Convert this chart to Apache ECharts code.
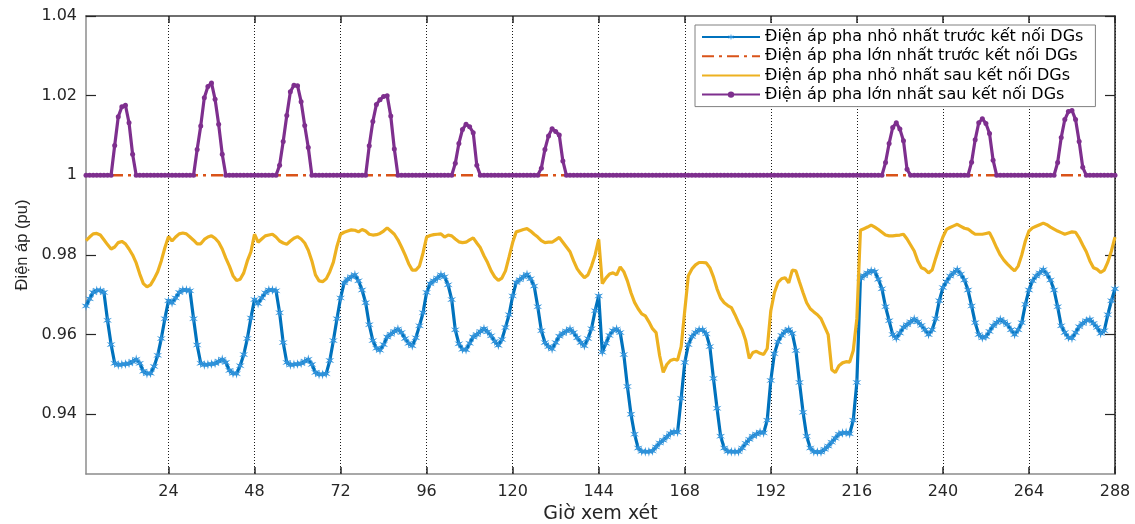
<!DOCTYPE html>
<html><head><meta charset="utf-8">
<script src="https://cdn.jsdelivr.net/npm/echarts@6/dist/echarts.min.js"></script>
<style>html,body{margin:0;padding:0;background:#fff}#c{width:1135px;height:524px}</style>
</head><body><div id="c"></div>
<script>
// x positions (hours 1..288)
const hours = Array.from({length: 288}, (_, i) => String(i + 1));
const xTickHours = [24, 48, 72, 96, 120, 144, 168, 192, 216, 240, 264, 288];
const yTickValues = [0.94, 0.96, 0.98, 1, 1.02, 1.04];

const seriesNames = [
  'Điện áp pha nhỏ nhất trước kết nối DGs',
  'Điện áp pha lớn nhất trước kết nối DGs',
  'Điện áp pha nhỏ nhất sau kết nối DGs',
  'Điện áp pha lớn nhất sau kết nối DGs'
];

// min phase voltage before DGs (blue)
const minBefore = [
0.9672,0.9690,0.9706,0.9711,0.9711,0.9706,0.9636,0.9575,0.9528,0.9524,0.9525,0.9526,0.9528,0.9532,0.9538,0.9528,0.9508,0.9502,0.9503,0.9520,0.9548,0.9590,0.9640,0.9685,
0.9680,0.9692,0.9706,0.9712,0.9712,0.9710,0.9640,0.9574,0.9528,0.9524,0.9525,0.9526,0.9528,0.9533,0.9538,0.9530,0.9510,0.9503,0.9502,0.9522,0.9550,0.9590,0.9642,0.9688,
0.9678,0.9692,0.9705,0.9712,0.9712,0.9710,0.9655,0.9580,0.9530,0.9524,0.9525,0.9526,0.9528,0.9533,0.9538,0.9525,0.9505,0.9500,0.9500,0.9502,0.9535,0.9585,0.9640,0.9692,
0.9730,0.9739,0.9745,0.9750,0.9735,0.9712,0.9680,0.9625,0.9585,0.9566,0.9561,0.9575,0.9594,0.9601,0.9608,0.9614,0.9605,0.9590,0.9578,0.9572,0.9592,0.9622,0.9655,0.9706,
0.9728,0.9735,0.9742,0.9750,0.9745,0.9725,0.9688,0.9612,0.9577,0.9563,0.9562,0.9578,0.9594,0.9600,0.9608,0.9615,0.9607,0.9597,0.9583,0.9573,0.9588,0.9618,0.9650,0.9697,
0.9731,0.9738,0.9745,0.9751,0.9740,0.9722,0.9670,0.9610,0.9580,0.9570,0.9564,0.9580,0.9596,0.9603,0.9609,0.9614,0.9605,0.9592,0.9580,0.9572,0.9590,0.9615,0.9660,0.9697,
0.9556,0.9578,0.9598,0.9610,0.9614,0.9605,0.9550,0.9470,0.9400,0.9350,0.9315,0.9307,0.9306,0.9306,0.9308,0.9318,0.9328,0.9335,0.9343,0.9352,0.9356,0.9355,0.9440,0.9530,
0.9575,0.9595,0.9605,0.9612,0.9612,0.9602,0.9570,0.9490,0.9415,0.9345,0.9315,0.9307,0.9306,0.9306,0.9306,0.9315,0.9327,0.9337,0.9345,0.9350,0.9355,0.9353,0.9385,0.9485,
0.9552,0.9582,0.9598,0.9608,0.9613,0.9603,0.9560,0.9480,0.9405,0.9345,0.9315,0.9306,0.9305,0.9305,0.9312,0.9320,0.9330,0.9340,0.9350,0.9353,0.9354,0.9351,0.9385,0.9480,
0.9742,0.9748,0.9755,0.9760,0.9758,0.9739,0.9715,0.9670,0.9635,0.9600,0.9591,0.9604,0.9618,0.9625,0.9632,0.9639,0.9632,0.9623,0.9612,0.9600,0.9612,0.9640,0.9685,0.9718,
0.9733,0.9747,0.9755,0.9763,0.9752,0.9737,0.9712,0.9672,0.9630,0.9600,0.9592,0.9595,0.9608,0.9622,0.9630,0.9638,0.9632,0.9625,0.9612,0.9600,0.9612,0.9630,0.9676,0.9712,
0.9735,0.9747,0.9755,0.9763,0.9752,0.9737,0.9712,0.9670,0.9622,0.9605,0.9593,0.9591,0.9605,0.9620,0.9628,0.9635,0.9638,0.9628,0.9618,0.9603,0.9610,0.9650,0.9685,0.9715
];

// max phase voltage before DGs (orange dash-dot)
const maxBefore = [
1,1,1,1,1,1,1,1,1,1,1,1,1,1,1,1,1,1,1,1,1,1,1,1,
1,1,1,1,1,1,1,1,1,1,1,1,1,1,1,1,1,1,1,1,1,1,1,1,
1,1,1,1,1,1,1,1,1,1,1,1,1,1,1,1,1,1,1,1,1,1,1,1,
1,1,1,1,1,1,1,1,1,1,1,1,1,1,1,1,1,1,1,1,1,1,1,1,
1,1,1,1,1,1,1,1,1,1,1,1,1,1,1,1,1,1,1,1,1,1,1,1,
1,1,1,1,1,1,1,1,1,1,1,1,1,1,1,1,1,1,1,1,1,1,1,1,
1,1,1,1,1,1,1,1,1,1,1,1,1,1,1,1,1,1,1,1,1,1,1,1,
1,1,1,1,1,1,1,1,1,1,1,1,1,1,1,1,1,1,1,1,1,1,1,1,
1,1,1,1,1,1,1,1,1,1,1,1,1,1,1,1,1,1,1,1,1,1,1,1,
1,1,1,1,1,1,1,1,1,1,1,1,1,1,1,1,1,1,1,1,1,1,1,1,
1,1,1,1,1,1,1,1,1,1,1,1,1,1,1,1,1,1,1,1,1,1,1,1,
1,1,1,1,1,1,1,1,1,1,1,1,1,1,1,1,1,1,1,1,1,1,1,1
];

// min phase voltage after DGs (yellow)
const minAfter = [
0.9836,0.9845,0.9853,0.9854,0.9850,0.9838,0.9826,0.9815,0.9820,0.9831,0.9834,0.9828,0.9815,0.9800,0.9780,0.9752,0.9728,0.9720,0.9725,0.9740,0.9758,0.9785,0.9818,0.9846,
0.9835,0.9845,0.9853,0.9855,0.9853,0.9845,0.9837,0.9828,0.9828,0.9839,0.9845,0.9848,0.9842,0.9832,0.9815,0.9792,0.9772,0.9748,0.9736,0.9739,0.9755,0.9785,0.9808,0.9852,
0.9832,0.9840,0.9848,0.9850,0.9852,0.9845,0.9835,0.9830,0.9827,0.9835,0.9842,0.9846,0.9840,0.9830,0.9812,0.9785,0.9750,0.9735,0.9733,0.9740,0.9758,0.9782,0.9822,0.9852,
0.9857,0.9860,0.9863,0.9862,0.9858,0.9864,0.9860,0.9852,0.9850,0.9851,0.9854,0.9860,0.9868,0.9860,0.9852,0.9838,0.9820,0.9800,0.9778,0.9762,0.9762,0.9772,0.9805,0.9845,
0.9849,0.9851,0.9852,0.9853,0.9845,0.9850,0.9848,0.9840,0.9833,0.9831,0.9832,0.9838,0.9843,0.9830,0.9818,0.9798,0.9781,0.9760,0.9745,0.9736,0.9742,0.9760,0.9795,0.9831,
0.9858,0.9861,0.9864,0.9866,0.9860,0.9852,0.9845,0.9836,0.9831,0.9832,0.9832,0.9838,0.9844,0.9832,0.9820,0.9808,0.9785,0.9765,0.9753,0.9743,0.9750,0.9772,0.9800,0.9839,
0.9728,0.9742,0.9752,0.9755,0.9750,0.9770,0.9758,0.9735,0.9705,0.9681,0.9665,0.9652,0.9647,0.9632,0.9615,0.9605,0.9547,0.9505,0.9525,0.9535,0.9538,0.9536,0.9570,0.9660,
0.9748,0.9765,0.9775,0.9781,0.9781,0.9780,0.9768,0.9745,0.9715,0.9692,0.9680,0.9673,0.9668,0.9650,0.9630,0.9612,0.9585,0.9540,0.9555,0.9558,0.9553,0.9550,0.9565,0.9660,
0.9705,0.9731,0.9740,0.9743,0.9730,0.9762,0.9760,0.9732,0.9705,0.9680,0.9665,0.9657,0.9650,0.9640,0.9620,0.9600,0.9512,0.9505,0.9522,0.9529,0.9532,0.9531,0.9560,0.9640,
0.9862,0.9866,0.9870,0.9875,0.9870,0.9864,0.9857,0.9850,0.9848,0.9848,0.9849,0.9850,0.9852,0.9840,0.9825,0.9810,0.9785,0.9768,0.9764,0.9755,0.9762,0.9792,0.9820,0.9845,
0.9864,0.9869,0.9873,0.9877,0.9872,0.9867,0.9865,0.9858,0.9852,0.9852,0.9852,0.9854,0.9856,0.9838,0.9818,0.9800,0.9787,0.9777,0.9768,0.9760,0.9772,0.9800,0.9835,0.9860,
0.9868,0.9872,0.9876,0.9880,0.9876,0.9870,0.9865,0.9860,0.9856,0.9852,0.9855,0.9858,0.9857,0.9843,0.9825,0.9808,0.9785,0.9768,0.9764,0.9756,0.9762,0.9782,0.9810,0.9845
];

// max phase voltage after DGs (purple)
const maxAfter = [
1,1,1,1,1,1,1,1,1.0075,1.0147,1.0172,1.0176,1.0132,1.0053,1,1,1,1,1,1,1,1,1,1,
1,1,1,1,1,1,1,1.0065,1.0124,1.0195,1.0223,1.0232,1.0191,1.0128,1.0053,1,1,1,1,1,1,1,1,1,
1,1,1,1,1,1,1.0025,1.0085,1.0150,1.0210,1.0226,1.0225,1.0185,1.0125,1.0070,1,1,1,1,1,1,1,1,1,
1,1,1,1,1,1,1,1.0074,1.0135,1.0178,1.0190,1.0198,1.0200,1.0149,1.0066,1,1,1,1,1,1,1,1,1,
1,1,1,1,1,1,1,1.0030,1.0080,1.0115,1.0128,1.0122,1.0107,1.0025,1,1,1,1,1,1,1,1,1,1,
1,1,1,1,1,1,1,1.0018,1.0065,1.0099,1.0117,1.0110,1.0101,1.0036,1,1,1,1,1,1,1,1,1,1,
1,1,1,1,1,1,1,1,1,1,1,1,1,1,1,1,1,1,1,1,1,1,1,1,
1,1,1,1,1,1,1,1,1,1,1,1,1,1,1,1,1,1,1,1,1,1,1,1,
1,1,1,1,1,1,1,1,1,1,1,1,1,1,1,1,1,1,1,1,1,1,1,1,
1,1,1,1,1,1,1,1.0032,1.0080,1.0120,1.0132,1.0116,1.0087,1.0015,1,1,1,1,1,1,1,1,1,1,
1,1,1,1,1,1,1,1.0033,1.0089,1.0132,1.0142,1.0130,1.0105,1.0038,1,1,1,1,1,1,1,1,1,1,
1,1,1,1,1,1,1,1.0032,1.0095,1.0140,1.0160,1.0163,1.0140,1.0085,1.0020,1,1,1,1,1,1,1,1,1
];

const FONT = 'DejaVu Sans';
const isTickHour = (idx, val) => xTickHours.indexOf(Number(val)) >= 0;
const starPath = 'path://M0,-5 L0.8,-1.386 L4.33,-2.5 L1.6,0 L4.33,2.5 L0.8,1.386 L0,5 L-0.8,1.386 L-4.33,2.5 L-1.6,0 L-4.33,-2.5 L-0.8,-1.386 Z';
const hiddenMark = {color: 'rgba(0,0,0,0)', borderWidth: 0, opacity: 0};

const chart = echarts.init(document.getElementById('c'), null, {renderer: 'canvas'});
chart.setOption({
  animation: false,
  backgroundColor: '#ffffff',
  grid: {left: 86, right: 20, top: 16, bottom: 50, outerBoundsMode: 'none', containLabel: false},
  legend: {
    orient: 'vertical', left: 695, top: 25,
    data: [
      {name: seriesNames[0]},
      {name: seriesNames[1], itemStyle: hiddenMark},
      {name: seriesNames[2], itemStyle: hiddenMark},
      {name: seriesNames[3]}
    ],
    itemWidth: 58, itemHeight: 8, itemGap: 3.2,
    padding: [4, 12, 4, 6],
    borderColor: '#808080', borderWidth: 1, backgroundColor: '#ffffff',
    textStyle: {fontFamily: FONT, fontSize: 16, color: '#000000'}
  },
  xAxis: [{
    type: 'category', data: hours, boundaryGap: false, position: 'bottom',
    axisLine: {onZero: false, lineStyle: {color: '#8c8c8c', width: 1.5}},
    axisTick: {inside: true, length: 7, interval: isTickHour, lineStyle: {color: '#262626', width: 1.5}},
    axisLabel: {interval: isTickHour, margin: 10, fontFamily: FONT, fontSize: 16, color: '#262626'},
    splitLine: {show: true, interval: isTickHour, lineStyle: {color: '#1a1a1a', width: 1, type: [1, 2]}},
    name: 'Giờ xem xét', nameLocation: 'middle', nameGap: 27,
    nameTextStyle: {fontFamily: FONT, fontSize: 19, color: '#262626'}
  }, {
    type: 'category', data: hours, boundaryGap: false, position: 'top',
    axisLine: {onZero: false, lineStyle: {color: '#404040', width: 1.5}},
    axisTick: {inside: true, length: 7, interval: isTickHour, lineStyle: {color: '#262626', width: 1.5}},
    axisLabel: {show: false}, splitLine: {show: false}
  }],
  yAxis: [{
    type: 'value', min: 0.925, max: 1.04, position: 'left',
    axisLine: {show: true, onZero: false, lineStyle: {color: '#8c8c8c', width: 1.5}},
    axisTick: {show: true, inside: true, length: 10, customValues: yTickValues, lineStyle: {color: '#262626', width: 1.2}},
    axisLabel: {customValues: yTickValues, margin: 9, fontFamily: FONT, fontSize: 16, color: '#262626',
      formatter: v => (Math.abs(v - 1) < 1e-9 ? '1' : Number(v).toFixed(2))},
    splitLine: {show: false},
    name: 'Điện áp (pu)', nameLocation: 'middle', nameGap: 55,
    nameTextStyle: {fontFamily: 'Liberation Sans', fontSize: 16.5, color: '#262626'}
  }, {
    type: 'value', min: 0.925, max: 1.04, position: 'right',
    axisLine: {show: true, onZero: false, lineStyle: {color: '#262626', width: 1.5}},
    axisTick: {show: true, inside: true, length: 10, customValues: yTickValues, lineStyle: {color: '#262626', width: 1.2}},
    axisLabel: {show: false}, splitLine: {show: false}
  }],
  series: [{
    name: seriesNames[0], type: 'line', data: minBefore, xAxisIndex: 0, yAxisIndex: 0,
    symbol: starPath, symbolSize: [9, 10], showAllSymbol: true,
    lineStyle: {color: '#0072BD', width: 3.2}, itemStyle: {color: '#2f92da'}, z: 2
  }, {
    name: seriesNames[1], type: 'line', data: maxBefore,
    symbol: 'none',
    lineStyle: {color: '#D95319', width: 2.5, type: [12, 5, 3, 5]}, itemStyle: {color: '#D95319'}, z: 3
  }, {
    name: seriesNames[2], type: 'line', data: minAfter,
    symbol: 'none',
    lineStyle: {color: '#EDB120', width: 3.2}, itemStyle: {color: '#EDB120'}, z: 4
  }, {
    name: seriesNames[3], type: 'line', data: maxAfter,
    symbol: 'circle', symbolSize: 5, showAllSymbol: true,
    lineStyle: {color: '#7E2F8E', width: 3.2}, itemStyle: {color: '#7E2F8E'}, z: 5
  }]
});
</script>
</body></html>
